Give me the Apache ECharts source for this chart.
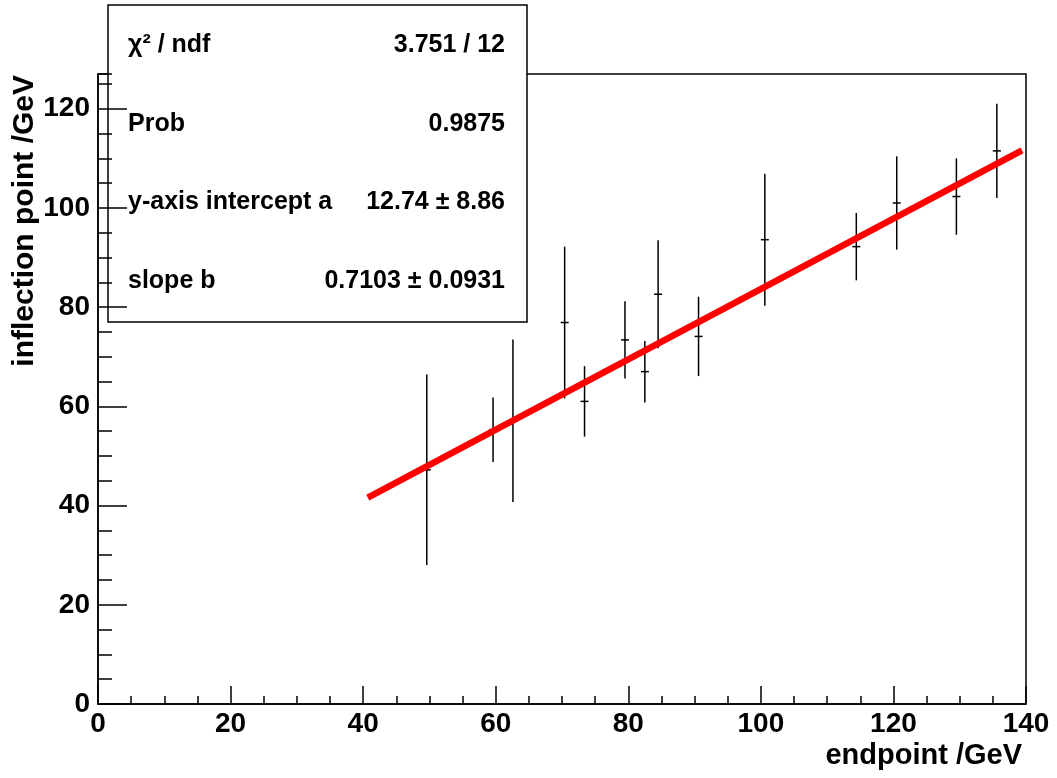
<!DOCTYPE html>
<html>
<head>
<meta charset="utf-8">
<title>inflection point vs endpoint</title>
<script src="https://cdn.jsdelivr.net/npm/echarts@6/dist/echarts.min.js"></script>
<style>
  html, body { margin: 0; padding: 0; background: #fff; }
  #chart { width: 1057px; height: 778px; }
</style>
</head>
<body>
<div id="chart"></div>
<script>
const endpointX = [49.6, 59.6, 62.6, 70.4, 73.4, 79.5, 82.5, 84.5, 90.6, 100.6, 114.4, 120.5, 129.5, 135.6]
const inflectionY = [47.2, 55.3, 57.1, 76.9, 61.0, 73.4, 67.0, 82.6, 74.1, 93.6, 92.2, 101.0, 102.3, 111.5]
const inflectionErr = [19.2, 6.5, 16.4, 15.3, 7.1, 7.8, 6.2, 10.9, 8.0, 13.3, 6.8, 9.4, 7.7, 9.5]

// straight-line fit, its two end points
const fitX = [40.7, 139.4]
const fitY = [41.6, 111.6]

// fit results box
const statNames = ['χ² / ndf', 'Prob', 'y-axis intercept a', 'slope b']
const statValues = ['3.751 / 12', '0.9875', '12.74 ± 8.86', '0.7103 ± 0.0931']

const xTicks = [0, 20, 40, 60, 80, 100, 120, 140]
const yMax = 127

const FONT = '"Liberation Sans", Arial, Helvetica, sans-serif'

const chart = echarts.init(document.getElementById('chart'))

const pointData = endpointX.map((x, i) => [x, inflectionY[i], inflectionErr[i]])
const fitData = fitX.map((x, i) => [x, fitY[i]])

// stats box texts
const statTexts = []
statNames.forEach((name, i) => {
  const y = 45 + i * 78.7
  statTexts.push({
    type: 'text', x: 128, y: y,
    style: { text: name, font: 'bold 25px ' + FONT, fill: '#000', align: 'left', verticalAlign: 'middle' }
  })
  statTexts.push({
    type: 'text', x: 505, y: y,
    style: { text: statValues[i], font: 'bold 25px ' + FONT, fill: '#000', align: 'right', verticalAlign: 'middle' }
  })
})

const option = {
  backgroundColor: '#fff',
  animation: false,
  grid: {
    left: 98, right: 31, top: 74, bottom: 74,
    show: true, borderColor: '#000', borderWidth: 1.5,
    containLabel: false, outerBoundsMode: 'none'
  },
  xAxis: {
    type: 'value', min: 0, max: 140, interval: 20,
    axisLine: { lineStyle: { color: '#000', width: 1.5 } },
    axisTick: { inside: true, length: 18, lineStyle: { color: '#000', width: 1.5 } },
    minorTick: { show: true, splitNumber: 4, length: 8, lineStyle: { color: '#000', width: 1.5 } },
    splitLine: { show: false },
    axisLabel: {
      color: '#000', fontSize: 28, fontWeight: 'bold', fontFamily: FONT, margin: 6,
      formatter: v => (xTicks.indexOf(v) >= 0 ? String(v) : '')
    }
  },
  yAxis: [
    {
      type: 'value', min: 0, max: yMax, interval: 20,
      axisLine: { lineStyle: { color: '#000', width: 1.5 } },
      axisTick: { inside: true, length: 29, lineStyle: { color: '#000', width: 1.5 } },
      splitLine: { show: false },
      axisLabel: {
        color: '#000', fontSize: 28, fontWeight: 'bold', fontFamily: FONT, margin: 8,
        showMaxLabel: false
      }
    },
    {
      // minor ticks every 5
      type: 'value', min: 0, max: yMax, interval: 5, position: 'left',
      axisLine: { show: false },
      axisTick: { inside: true, length: 14, lineStyle: { color: '#000', width: 1.5 } },
      splitLine: { show: false },
      axisLabel: { show: false }
    }
  ],
  series: [
    {
      type: 'custom',
      name: 'points',
      data: pointData,
      z: 2,
      renderItem: function (params, api) {
        const x = api.value(0)
        const y = api.value(1)
        const e = api.value(2)
        const top = api.coord([x, y + e])
        const bot = api.coord([x, y - e])
        const mid = api.coord([x, y])
        const st = { stroke: '#000', lineWidth: 1.5 }
        return {
          type: 'group',
          children: [
            { type: 'line', shape: { x1: top[0], y1: top[1], x2: bot[0], y2: bot[1] }, style: st },
            { type: 'line', shape: { x1: mid[0] - 4, y1: mid[1], x2: mid[0] + 4, y2: mid[1] }, style: st }
          ]
        }
      }
    },
    {
      type: 'line',
      name: 'fit',
      data: fitData,
      z: 5,
      symbol: 'none',
      lineStyle: { color: '#ff0000', width: 6.5 }
    }
  ],
  graphic: [
    {
      type: 'text', x: 25, y: 75, rotation: Math.PI / 2,
      style: { text: 'inflection point /GeV', font: 'bold 30px ' + FONT, fill: '#000', align: 'right', verticalAlign: 'middle' }
    },
    {
      type: 'text', x: 1022, y: 756,
      style: { text: 'endpoint /GeV', font: 'bold 29px ' + FONT, fill: '#000', align: 'right', verticalAlign: 'middle' }
    },
    {
      type: 'group', z: 100,
      children: [
        {
          type: 'rect', shape: { x: 108, y: 5, width: 419, height: 317 },
          style: { fill: '#fff', stroke: '#000', lineWidth: 1.5 }
        }
      ].concat(statTexts)
    }
  ]
}

chart.setOption(option)
</script>
</body>
</html>
